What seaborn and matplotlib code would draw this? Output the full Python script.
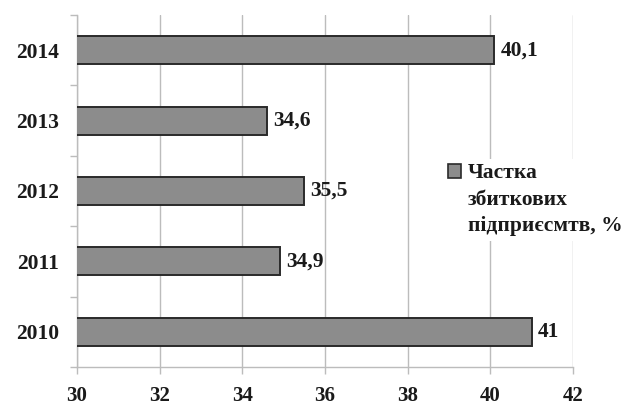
import matplotlib
matplotlib.use("Agg")
import matplotlib.pyplot as plt
from matplotlib.patches import Patch
from matplotlib.ticker import FixedLocator
import pandas as pd
import seaborn as sns

years = ["2014", "2013", "2012", "2011", "2010"]
shares = [40.1, 34.6, 35.5, 34.9, 41.0]
x_ticks = [30, 32, 34, 36, 38, 40, 42]
legend_lines = ["Частка", "збиткових", "підприєсмтв, %"]

sns.set_theme(style="white")
plt.rcParams["font.family"] = ["Liberation Serif", "DejaVu Serif"]
plt.rcParams["font.weight"] = "bold"

df = pd.DataFrame({"year": years, "share": shares})

fig = plt.figure(figsize=(6.22, 4.08), dpi=100)
ax = fig.add_axes([77 / 622, 41 / 408, 496 / 622, 352 / 408])

grid_c = "#bcbcbc"
bar_fill = "#8c8c8c"
bar_edge = "#2a2a2a"
txt_c = "#1a1a1a"
fs = 15.5

sns.barplot(data=df, x="share", y="year", order=years, orient="h",
            color=bar_fill, edgecolor=bar_edge, linewidth=1.4,
            width=0.4, saturation=1, ax=ax, zorder=3)

ax.set_xlim(30, 42)
ax.set_ylim(4.5, -0.5)
ax.set_xticks(x_ticks)
ax.set_xticklabels([str(t) for t in x_ticks], fontsize=fs - 0.5,
                   fontweight="bold", color=txt_c)
ax.set_yticklabels(years, fontsize=fs, fontweight="bold", color=txt_c)
ax.set_xlabel("")
ax.set_ylabel("")

ax.xaxis.grid(True, color=grid_c, linewidth=1, zorder=0)
ax.set_axisbelow(True)

ax.tick_params(axis="y", which="major", length=0, pad=13)
ax.yaxis.set_minor_locator(FixedLocator([-0.5, 0.5, 1.5, 2.5, 3.5, 4.5]))
ax.tick_params(axis="y", which="minor", length=5, width=1, color=grid_c,
               direction="out", left=True)
ax.tick_params(axis="x", which="major", length=5, width=1, color=grid_c,
               direction="out", bottom=True, pad=8.5)

for side in ["top", "right"]:
    ax.spines[side].set_visible(False)
for side in ["left", "bottom"]:
    ax.spines[side].set_color(grid_c)
    ax.spines[side].set_linewidth(1)

labels = [f"{v:g}".replace(".", ",") for v in shares]
ax.bar_label(ax.containers[0], labels=labels, padding=4.5, fontsize=fs,
             fontweight="bold", color=txt_c)

handles = [Patch(facecolor=bar_fill, edgecolor=bar_edge, linewidth=1.2)]
handles += [Patch(facecolor="none", edgecolor="none") for _ in legend_lines[1:]]
leg = ax.legend(handles, legend_lines, loc="upper left",
                bbox_to_anchor=(444 / 622, 1 - 159 / 408),
                bbox_transform=fig.transFigure,
                frameon=True, facecolor="white", edgecolor="none",
                framealpha=1, fancybox=False,
                prop={"size": fs, "weight": "bold"},
                handlelength=0.6, handleheight=0.6, handletextpad=0.3,
                labelspacing=0.3, borderpad=0.2, borderaxespad=0)
for t in leg.get_texts():
    t.set_color(txt_c)
leg.set_zorder(5)

fig.savefig("out.png", dpi=100)
